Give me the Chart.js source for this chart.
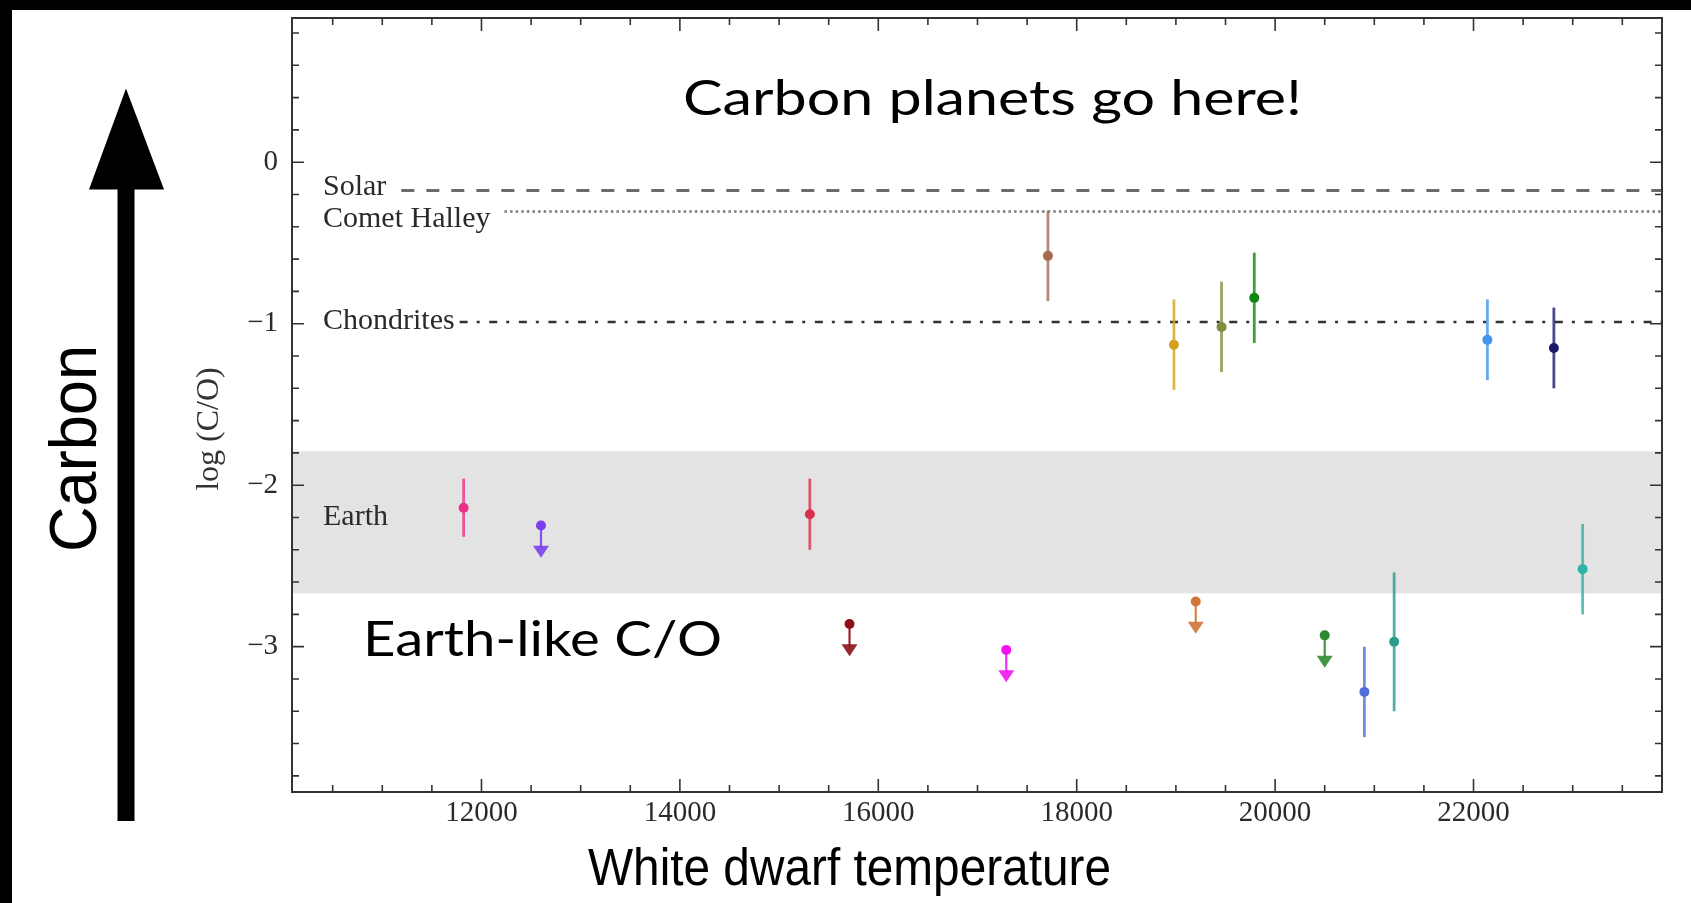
<!DOCTYPE html>
<html>
<head>
<meta charset="utf-8">
<script src="https://cdn.jsdelivr.net/npm/chart.js@4"></script>
<style>
  html, body { margin: 0; padding: 0; background: #000; }
  canvas { display: block; }
</style>
</head>
<body>
<canvas id="coChart" width="1691" height="903"></canvas>
<script>
// white dwarfs with a measured log(C/O) and its error
const tempMeasured = [11820, 15310, 17710, 18980, 19460, 19790, 20900, 21200, 22140, 22810, 23100];
const logCOMeasured = [-2.14, -2.18, -0.58, -1.13, -1.02, -0.84, -3.28, -2.97, -1.10, -1.15, -2.52];
const logCOError = [0.18, 0.22, 0.28, 0.28, 0.28, 0.28, 0.28, 0.43, 0.25, 0.25, 0.28];
const colorsMeasured = ["#ea2f86", "#d8304f", "#a56a50", "#d3a21f", "#7f8d3c", "#0f870f",
  "#4f6fdd", "#2a9a8c", "#4594ec", "#1b1a6a", "#30b3a3"];

// white dwarfs with only an upper limit
const tempLimits = [12600, 15710, 17290, 19200, 20500];
const logCOLimits = [-2.25, -2.86, -3.02, -2.72, -2.93];
const colorsLimits = ["#7b3ff0", "#8c0f1a", "#f213ee", "#d0743a", "#2e8a30"];
const limitArrow = 0.2;

// reference C/O values
const refNames = ["Solar", "Comet Halley", "Chondrites"];
const refValues = [-0.175, -0.305, -0.99];
const earthBand = [-2.67, -1.79];

// axes
const xRange = [10090, 23900];
const yRange = [-3.9, 0.893];
const xLabelTicks = [12000, 14000, 16000, 18000, 20000, 22000];
const yLabelTicks = [-3, -2, -1, 0];
const xMinorStep = 500;
const yMinorStep = 0.2;

// line styles for the reference values
const refStyle = [
  { dash: [13, 12], color: "#6a6a6a", width: 3, gap: 15, shift: 5 },
  { dash: [2.5, 3.1], color: "#7a7a7a", width: 2.5, gap: 14, shift: 16 },
  { dash: [8, 9, 3, 9.6], color: "#333", width: 2.5, gap: 5, shift: 7 }
];

function stepTicks(min, max, step) {
  const out = [];
  for (let k = Math.ceil(min / step); k * step <= max + 1e-9; k++) {
    out.push({ value: Math.round(k * step * 1000) / 1000 });
  }
  return out;
}

function isLabelTick(list, v) {
  return list.some(t => Math.abs(t - v) < 1e-6);
}

function fitText(ctx, text, x, y, width, font, angle) {
  ctx.save();
  ctx.font = font;
  const w = ctx.measureText(text).width;
  ctx.translate(x, y);
  if (angle) ctx.rotate(angle);
  ctx.scale(width / w, 1);
  ctx.fillText(text, 0, 0);
  ctx.restore();
}

const plotDecor = {
  id: "plotDecor",
  beforeDraw(chart) {
    const ctx = chart.ctx;
    ctx.save();
    ctx.fillStyle = "#000";
    ctx.fillRect(0, 0, chart.width, chart.height);
    ctx.fillStyle = "#fff";
    ctx.fillRect(12, 10, chart.width - 12, chart.height - 10);
    ctx.restore();
  },
  beforeDatasetsDraw(chart) {
    const { ctx, chartArea: a, scales: { x, y } } = chart;
    ctx.save();
    ctx.beginPath();
    ctx.rect(a.left, a.top, a.width, a.height);
    ctx.clip();

    // Earth band
    const bTop = y.getPixelForValue(earthBand[1]);
    const bBot = y.getPixelForValue(earthBand[0]);
    ctx.fillStyle = "#e3e3e3";
    ctx.fillRect(a.left, bTop, a.width, bBot - bTop);

    // reference lines with their labels
    ctx.font = '30px "Liberation Serif"';
    ctx.fillStyle = "#2a2a2a";
    const labelX = a.left + 31;
    refNames.forEach((name, i) => {
      const s = refStyle[i];
      const py = y.getPixelForValue(refValues[i]);
      ctx.fillText(name, labelX, py + s.shift);
      const start = labelX + ctx.measureText(name).width + s.gap;
      ctx.save();
      ctx.strokeStyle = s.color;
      ctx.lineWidth = s.width;
      ctx.setLineDash(s.dash);
      ctx.beginPath();
      ctx.moveTo(start, py);
      ctx.lineTo(a.right, py);
      ctx.stroke();
      ctx.restore();
    });
    ctx.fillText("Earth", labelX, (bTop + bBot) / 2 + 3);

    // error bars
    ctx.lineWidth = 2.8;
    ctx.globalAlpha = 0.8;
    tempMeasured.forEach((t, i) => {
      const px = x.getPixelForValue(t);
      ctx.strokeStyle = colorsMeasured[i];
      ctx.beginPath();
      ctx.moveTo(px, y.getPixelForValue(logCOMeasured[i] + logCOError[i]));
      ctx.lineTo(px, y.getPixelForValue(logCOMeasured[i] - logCOError[i]));
      ctx.stroke();
    });

    // upper-limit arrows
    ctx.globalAlpha = 0.9;
    ctx.lineWidth = 2.2;
    tempLimits.forEach((t, i) => {
      const px = x.getPixelForValue(t);
      const py = y.getPixelForValue(logCOLimits[i]);
      const tip = y.getPixelForValue(logCOLimits[i] - limitArrow);
      ctx.strokeStyle = colorsLimits[i];
      ctx.fillStyle = colorsLimits[i];
      ctx.beginPath();
      ctx.moveTo(px, py);
      ctx.lineTo(px, tip - 10);
      ctx.stroke();
      ctx.beginPath();
      ctx.moveTo(px - 8, tip - 12);
      ctx.lineTo(px + 8, tip - 12);
      ctx.lineTo(px, tip);
      ctx.closePath();
      ctx.fill();
    });
    ctx.restore();
  },
  afterDatasetsDraw(chart) {
    const { ctx, chartArea: a, scales: { x, y } } = chart;
    ctx.save();
    ctx.strokeStyle = "#333";
    ctx.lineWidth = 2;
    ctx.strokeRect(a.left, a.top, a.width, a.height);
    ctx.lineWidth = 1.6;
    ctx.beginPath();
    x.ticks.forEach(tk => {
      const px = x.getPixelForValue(tk.value);
      const len = isLabelTick(xLabelTicks, tk.value) ? 13 : 7;
      ctx.moveTo(px, a.bottom);
      ctx.lineTo(px, a.bottom - len);
      ctx.moveTo(px, a.top);
      ctx.lineTo(px, a.top + len);
    });
    y.ticks.forEach(tk => {
      const py = y.getPixelForValue(tk.value);
      const len = isLabelTick(yLabelTicks, tk.value) ? 12 : 7;
      ctx.moveTo(a.left, py);
      ctx.lineTo(a.left + len, py);
      ctx.moveTo(a.right, py);
      ctx.lineTo(a.right - len, py);
    });
    ctx.stroke();

    // y axis title
    ctx.fillStyle = "#333";
    ctx.font = '32px "Liberation Serif"';
    ctx.textAlign = "center";
    ctx.translate(218, (a.top + a.bottom) / 2 + 24);
    ctx.rotate(-Math.PI / 2);
    ctx.fillText("log (C/O)", 0, 0);
    ctx.restore();
  },
  afterDraw(chart) {
    const ctx = chart.ctx;
    ctx.save();
    ctx.fillStyle = "#000";
    fitText(ctx, "Carbon planets go here!", 683, 115, 619, '49px Lato');
    fitText(ctx, "Earth-like C/O", 363, 656, 359, '49px Lato');
    fitText(ctx, "White dwarf temperature", 588, 885, 523, '51px "Liberation Sans"');
    fitText(ctx, "Carbon", 96, 552, 207, '67px "Liberation Sans"', -Math.PI / 2);

    // upward arrow next to "Carbon"
    ctx.fillRect(117.5, 188, 17, 633);
    ctx.beginPath();
    ctx.moveTo(126, 88.5);
    ctx.lineTo(164, 189.5);
    ctx.lineTo(89, 189.5);
    ctx.closePath();
    ctx.fill();
    ctx.restore();
  }
};

const tickFont = { family: "Liberation Serif", size: 29 };

new Chart(document.getElementById("coChart"), {
  type: "scatter",
  data: {
    datasets: [
      {
        label: "Measured",
        data: tempMeasured.map((t, i) => ({ x: t, y: logCOMeasured[i] })),
        pointBackgroundColor: colorsMeasured,
        pointBorderWidth: 0,
        pointRadius: 5,
      },
      {
        label: "Upper limits",
        data: tempLimits.map((t, i) => ({ x: t, y: logCOLimits[i] })),
        pointBackgroundColor: colorsLimits,
        pointBorderWidth: 0,
        pointRadius: 5,
      },
    ],
  },
  options: {
    responsive: false,
    devicePixelRatio: 1,
    animation: false,
    layout: { padding: { left: 0, top: 18, right: 29, bottom: 0 } },
    plugins: { legend: { display: false }, tooltip: { enabled: false } },
    scales: {
      x: {
        type: "linear",
        min: xRange[0],
        max: xRange[1],
        afterBuildTicks: s => { s.ticks = stepTicks(xRange[0], xRange[1], xMinorStep); },
        afterFit: s => { s.height = 111; s.paddingLeft = 0; s.paddingRight = 0; },
        grid: { display: false, drawTicks: false },
        border: { display: false },
        ticks: {
          autoSkip: false,
          maxRotation: 0,
          padding: 4,
          color: "#2a2a2a",
          font: tickFont,
          callback: v => (isLabelTick(xLabelTicks, v) ? String(v) : ""),
        },
      },
      y: {
        type: "linear",
        min: yRange[0],
        max: yRange[1],
        afterBuildTicks: s => { s.ticks = stepTicks(yRange[0], yRange[1], yMinorStep); },
        afterFit: s => { s.width = 292; s.paddingTop = 0; s.paddingBottom = 0; },
        grid: { display: false, drawTicks: false },
        border: { display: false },
        ticks: {
          autoSkip: false,
          padding: 14,
          color: "#2a2a2a",
          font: tickFont,
          callback: v => {
            if (!isLabelTick(yLabelTicks, v)) return "";
            const r = Math.round(v);
            return r < 0 ? "\u2212" + Math.abs(r) : String(r);
          },
        },
      },
    },
  },
  plugins: [plotDecor],
});
</script>
</body>
</html>
